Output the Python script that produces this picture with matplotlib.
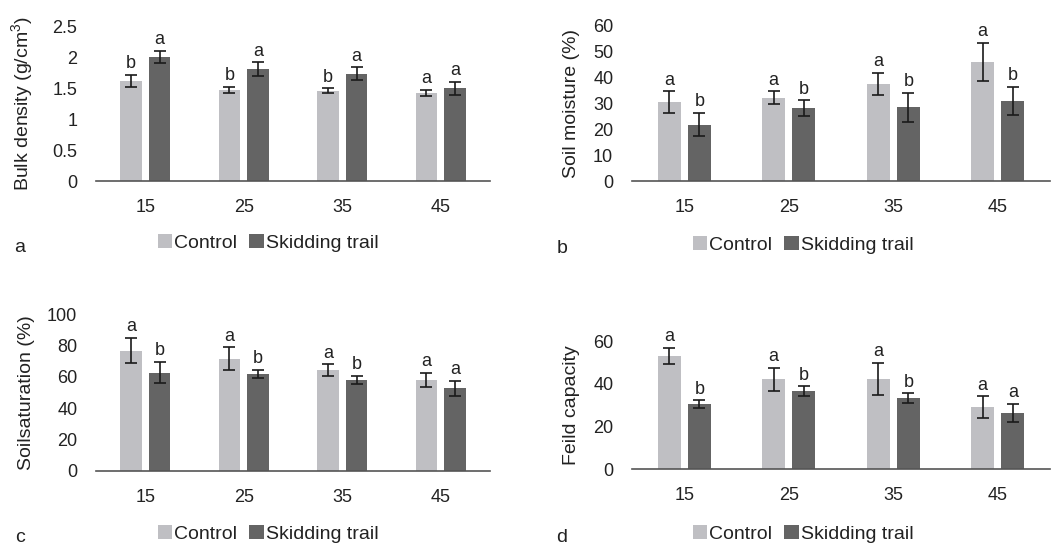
import matplotlib
matplotlib.use("Agg")
import matplotlib.pyplot as plt
import numpy as np
from matplotlib.patches import Patch

plt.rcParams['font.family'] = ['Liberation Sans', 'DejaVu Sans']
plt.rcParams['mathtext.fontset'] = 'custom'
plt.rcParams['mathtext.rm'] = 'Liberation Sans'
plt.rcParams['mathtext.it'] = 'Liberation Sans'

categories = ["15", "25", "35", "45"]
series_names = ["Control", "Skidding trail"]

bd_control = [1.62, 1.47, 1.46, 1.43]
bd_control_err = [0.10, 0.05, 0.04, 0.045]
bd_skid = [2.01, 1.81, 1.74, 1.50]
bd_skid_err = [0.10, 0.11, 0.10, 0.10]
bd_letters_control = ["b", "b", "b", "a"]
bd_letters_skid = ["a", "a", "a", "a"]

sm_control = [30.5, 32.3, 37.5, 46.1]
sm_control_err = [4.2, 2.4, 4.2, 7.5]
sm_skid = [21.8, 28.1, 28.5, 31.0]
sm_skid_err = [4.5, 3.1, 5.7, 5.5]
sm_letters_control = ["a", "a", "a", "a"]
sm_letters_skid = ["b", "b", "b", "b"]

ss_control = [76.8, 71.6, 64.4, 58.0]
ss_control_err = [8.2, 7.2, 3.6, 4.3]
ss_skid = [62.7, 61.8, 58.0, 52.7]
ss_skid_err = [6.7, 2.5, 2.8, 4.8]
ss_letters_control = ["a", "a", "a", "a"]
ss_letters_skid = ["b", "b", "b", "a"]

fc_control = [53.0, 42.2, 42.2, 29.0]
fc_control_err = [3.6, 5.4, 7.5, 5.1]
fc_skid = [30.4, 36.5, 33.2, 26.3]
fc_skid_err = [1.8, 2.3, 2.3, 4.3]
fc_letters_control = ["a", "a", "a", "a"]
fc_letters_skid = ["b", "b", "b", "a"]

C_CTRL = "#bfbfc3"
C_SKID = "#646464"
TXT = "#222222"
FS = 13
FS_LEG = 14
FS_LAB = 14

W, H = 1051, 550
fig = plt.figure(figsize=(W / 100, H / 100), dpi=100)


def px_axes(x0, x1, y_bottom, y_top):
    return fig.add_axes([x0 / W, 1 - y_bottom / H, (x1 - x0) / W, (y_bottom - y_top) / H])


def panel(ax, ctrl, ctrl_err, skid, skid_err, lc, ls, ylim, yticks, yticklabels, ylabel):
    x = np.arange(len(categories))
    off, bw = 0.145, 0.22
    ax.bar(x - off, ctrl, bw, color=C_CTRL, zorder=2)
    ax.bar(x + off, skid, bw, color=C_SKID, zorder=2)
    ax.errorbar(x - off, ctrl, yerr=ctrl_err, fmt='none', ecolor='#1a1a1a',
                elinewidth=1.2, capsize=4, capthick=1.2, zorder=3)
    ax.errorbar(x + off, skid, yerr=skid_err, fmt='none', ecolor='#1a1a1a',
                elinewidth=1.2, capsize=4, capthick=1.2, zorder=3)
    for xi, v, e, t in zip(x - off, ctrl, ctrl_err, lc):
        ax.annotate(t, (xi, v + e), xytext=(0, 2), textcoords='offset points',
                    ha='center', va='bottom', fontsize=FS, color=TXT, annotation_clip=False)
    for xi, v, e, t in zip(x + off, skid, skid_err, ls):
        ax.annotate(t, (xi, v + e), xytext=(0, 2), textcoords='offset points',
                    ha='center', va='bottom', fontsize=FS, color=TXT, annotation_clip=False)
    ax.set_xlim(-0.5, len(categories) - 0.5)
    ax.set_ylim(*ylim)
    ax.set_xticks(x)
    ax.set_xticklabels(categories, fontsize=FS, color=TXT)
    ax.set_yticks(yticks)
    ax.set_yticklabels(yticklabels, fontsize=FS, color=TXT)
    ax.tick_params(axis='both', length=0)
    ax.tick_params(axis='x', pad=13)
    ax.tick_params(axis='y', pad=13.5)
    for s in ['top', 'right', 'left']:
        ax.spines[s].set_visible(False)
    ax.spines['bottom'].set_color('#555555')
    ax.spines['bottom'].set_linewidth(1.2)
    ax.set_ylabel(ylabel, fontsize=FS_LAB, color=TXT)


def legend(xc, yc):
    handles = [Patch(facecolor=C_CTRL, edgecolor='none'), Patch(facecolor=C_SKID, edgecolor='none')]
    fig.legend(handles, series_names, loc='center', bbox_to_anchor=(xc / W, 1 - yc / H),
               ncol=2, frameon=False, fontsize=FS_LEG, handlelength=0.75, handleheight=0.7,
               handletextpad=0.1, columnspacing=0.6, borderpad=0, labelcolor=TXT)


ax_a = px_axes(96, 490, 181, 26.7)
panel(ax_a, bd_control, bd_control_err, bd_skid, bd_skid_err, bd_letters_control, bd_letters_skid,
      (0, 2.5), [0, 0.5, 1, 1.5, 2, 2.5], ["0", "0.5", "1", "1.5", "2", "2.5"],
      "Bulk density (g/cm$^{3}$)")
ax_a.yaxis.set_label_coords(-(96 - 35) / 394, 0.5)

ax_b = px_axes(632, 1050, 181, 26)
panel(ax_b, sm_control, sm_control_err, sm_skid, sm_skid_err, sm_letters_control, sm_letters_skid,
      (0, 60), [0, 10, 20, 30, 40, 50, 60], ["0", "10", "20", "30", "40", "50", "60"],
      "Soil moisture (%)")
ax_b.yaxis.set_label_coords(-(632 - 580) / 418, 0.5)

ax_c = px_axes(96, 490, 470.7, 314.3)
panel(ax_c, ss_control, ss_control_err, ss_skid, ss_skid_err, ss_letters_control, ss_letters_skid,
      (0, 100), [0, 20, 40, 60, 80, 100], ["0", "20", "40", "60", "80", "100"],
      "Soilsaturation (%)")
ax_c.yaxis.set_label_coords(-(96 - 35) / 394, 0.5)

ax_d = px_axes(632, 1050, 469.3, 341)
panel(ax_d, fc_control, fc_control_err, fc_skid, fc_skid_err, fc_letters_control, fc_letters_skid,
      (0, 60), [0, 20, 40, 60], ["0", "20", "40", "60"],
      "Feild capacity")
ax_d.yaxis.set_label_coords(-(632 - 580) / 418, 0.5)

legend(268, 243)
legend(803, 245)
legend(268, 534)
legend(803, 534)

for t, x, y in [("a", 20, 247), ("b", 562, 249), ("c", 20, 538), ("d", 562, 537)]:
    fig.text(x / W, 1 - y / H, t, fontsize=FS_LEG, color=TXT, ha='center', va='center')

fig.savefig("out.png", dpi=100)
